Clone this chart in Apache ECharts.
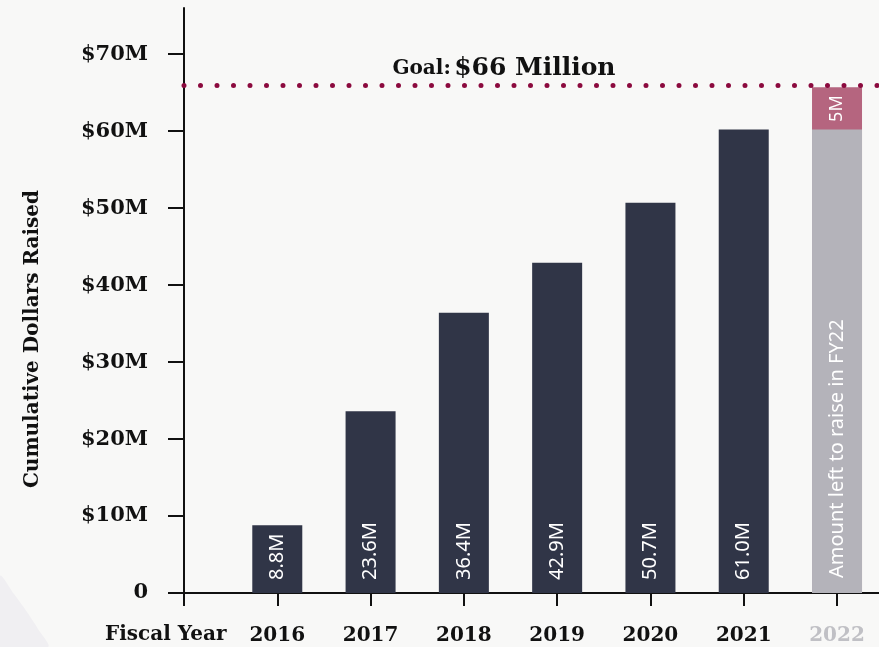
<!DOCTYPE html>
<html><head><meta charset="utf-8">
<script src="https://cdn.jsdelivr.net/npm/echarts@6/dist/echarts.min.js"></script>
<style>html,body{margin:0;padding:0;background:#f8f8f7;}#c{width:879px;height:647px;}</style>
</head><body><div id="c"></div>
<script>
// ---- data ----
const years = ['2016', '2017', '2018', '2019', '2020', '2021'];
const raised = [8.8, 23.6, 36.4, 42.9, 50.7, 60.2];
const raisedLabels = ['8.8M', '23.6M', '36.4M', '42.9M', '50.7M', '61.0M'];
const goalYear = '2022';
const raisedBeforeGoalYear = 60.2;
const leftToRaise = 5.5;
const leftLabel = '5M';
const leftText = 'Amount left to raise in FY22';
const goalValue = 66;
const goalTitle = 'Goal:';
const goalAmount = '$66 Million';
const yTicks = [0, 10, 20, 30, 40, 50, 60, 70];
const yTitle = 'Cumulative Dollars Raised';
const xTitle = 'Fiscal Year';

const allYears = years.concat([goalYear]);
const xPos = allYears.map((_, i) => i + 1);
const serif = '"DejaVu Serif", serif';
const sans = '"Noto Sans", sans-serif';

const chart = echarts.init(document.getElementById('c'), null, {renderer: 'canvas'});
const barLabel = {
  show: true, position: 'insideBottom', rotate: 90, distance: 13,
  align: 'left', verticalAlign: 'middle',
  color: '#ffffff', fontFamily: sans, fontSize: 20
};
chart.setOption({
  backgroundColor: '#f8f8f7',
  animation: false,
  grid: {left: 184, right: 0, top: 8, bottom: 54},
  xAxis: {
    type: 'value', min: 0, max: 7.45,
    splitLine: {show: false},
    axisLine: {show: true, lineStyle: {color: '#111', width: 2}},
    axisTick: {show: true, length: 13, lineStyle: {color: '#111', width: 2},
      customValues: [0].concat(xPos)},
    axisLabel: {
      customValues: xPos, margin: 33,
      formatter: v => allYears[v - 1] || '',
      fontFamily: serif, fontWeight: 'bold', fontSize: 20,
      color: v => (allYears[v - 1] === goalYear ? '#c0c0c5' : '#111')
    }
  },
  yAxis: {
    type: 'value', min: 0, max: 76,
    splitLine: {show: false},
    axisLine: {show: true, lineStyle: {color: '#111', width: 2}},
    axisTick: {show: true, length: 16, lineStyle: {color: '#111', width: 2},
      customValues: yTicks},
    axisLabel: {
      customValues: yTicks, margin: 36,
      formatter: v => (v === 0 ? '0' : '$' + v + 'M'),
      fontFamily: serif, fontWeight: 'bold', fontSize: 21,
      color: v => (v === 70 ? '#c0c0c5' : '#111')
    }
  },
  graphic: [
    {type: 'polygon', z: -10, silent: true,
      shape: {points: [[0, 576], [14, 594], [27, 612], [38, 629], [48, 647], [0, 647]], smooth: 0.3},
      style: {fill: '#f0eff2'}},
    {type: 'text', left: 23, top: 190, rotation: Math.PI / 2,
      style: {text: yTitle, font: 'bold 20px ' + serif, fill: '#111'}},
    {type: 'text', left: 105, top: 625,
      style: {text: xTitle, font: 'bold 20px ' + serif, fill: '#111'}}
  ],
  series: [
    {
      type: 'bar', barWidth: 50, barGap: '-100%', z: 2,
      itemStyle: {color: '#303547'},
      data: raised.map((v, i) => [xPos[i], v]),
      label: Object.assign({}, barLabel, {formatter: p => raisedLabels[p.dataIndex]}),
      markLine: {
        silent: true, symbol: 'none',
        lineStyle: {color: '#8b0a3e', width: 5, type: [0, 16.5], cap: 'round'},
        label: {show: false},
        data: [{yAxis: goalValue}]
      },
      markPoint: {
        symbolSize: 0,
        data: [{coord: [3.43, goalValue]}],
        label: {
          show: true, position: 'top', distance: 4,
          formatter: '{a|' + goalTitle + '} {b|' + goalAmount + '}',
          rich: {
            a: {fontFamily: serif, fontWeight: 'bold', fontSize: 20, color: '#111'},
            b: {fontFamily: serif, fontWeight: 'bold', fontSize: 25, color: '#111'}
          }
        }
      }
    },
    {
      // total for the goal year (raised + left), drawn behind the grey part
      type: 'bar', barWidth: 50, barGap: '-100%', z: 2,
      itemStyle: {color: '#b5657f'},
      data: [[xPos[6], raisedBeforeGoalYear + leftToRaise]],
      label: {show: true, position: 'insideTop', rotate: 90, distance: 8,
        align: 'right', verticalAlign: 'middle', color: '#fff',
        fontFamily: sans, fontSize: 18, formatter: leftLabel}
    },
    {
      type: 'bar', barWidth: 50, barGap: '-100%', z: 3,
      itemStyle: {color: '#b4b3ba'},
      data: [[xPos[6], raisedBeforeGoalYear]],
      label: Object.assign({}, barLabel, {distance: 15, formatter: leftText})
    }
  ]
});
</script></body></html>
